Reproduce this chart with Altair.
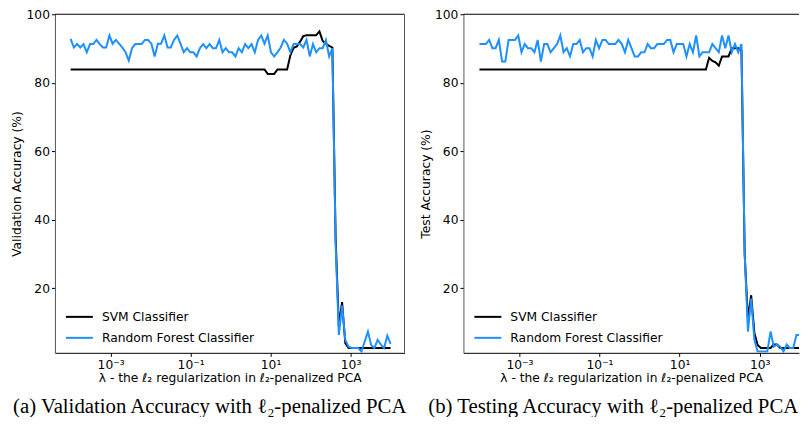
import altair as alt
import numpy as np
import pandas as pd

# lambda grid (x axis), 100 log-spaced values between 1e-4 and 1e4
lambdas = np.logspace(-4, 4, 100).tolist()

series_names = ["SVM Classifier", "Random Forest Classifier"]
series_colors = ["#000000", "#1E90FF"]

# (a) validation accuracy
svm_val = ([83.9] * 61 + [82.6] * 3 + [83.9] * 4 +
           [88.0, 90.2, 90.6, 92.0, 93.6, 93.9, 93.9, 93.9, 93.9, 95.0,
            92.2, 91.4, 90.8, 90.3, 35.0, 9.0, 16.0, 4.0] + [2.6] * 14)
rf_val = [92.8, 90.3, 91.3, 90.3, 91.3, 88.9, 91.3, 91.3, 92.5, 91.3,
          90.3, 90.3, 93.8, 91.4, 92.5, 91.4, 90.3, 88.9, 86.5, 90.1,
          91.3, 91.3, 91.3, 92.5, 92.5, 91.4, 87.7, 91.4, 91.4, 93.8,
          90.3, 90.3, 92.5, 93.8, 91.4, 88.9, 90.1, 88.9, 88.9, 87.7,
          90.1, 91.3, 90.1, 91.3, 90.1, 90.1, 92.5, 88.9, 90.1, 88.9,
          88.9, 87.7, 90.1, 88.9, 91.3, 90.1, 91.3, 88.9, 92.5, 93.8,
          91.4, 93.8, 88.9, 87.7, 88.9, 90.3, 92.5, 91.4, 88.9, 91.3,
          91.3, 91.3, 90.3, 92.5, 87.7, 91.3, 88.9, 90.1, 90.1, 92.5,
          87.7, 90.1, 33.0, 6.4, 15.0, 5.0, 3.0, 2.6, 2.6, 2.6,
          1.6, 4.5, 7.4, 3.5, 2.6, 5.0, 3.6, 2.6, 6.2, 3.8]

# (b) test accuracy
svm_test = ([83.9] * 71 +
            [87.3, 86.4, 86.0, 85.0, 87.7, 87.7, 87.7, 90.1, 90.1, 90.1, 89.5,
             30.0, 11.0, 18.0, 7.0, 3.5, 2.6, 2.6, 2.6, 2.6, 3.6,
             3.6, 2.6, 2.6, 2.6, 2.6, 2.6, 2.6, 2.6])
rf_test = [91.3, 91.3, 91.3, 92.5, 90.1, 90.1, 92.5, 86.2, 86.2, 92.5,
           92.5, 92.5, 93.8, 88.9, 91.3, 90.1, 90.1, 88.9, 92.5, 86.2,
           91.3, 91.3, 88.9, 90.1, 91.3, 93.8, 88.9, 90.1, 87.7, 91.3,
           91.3, 92.5, 88.9, 90.1, 90.1, 87.7, 92.5, 90.1, 92.5, 92.5,
           91.3, 91.3, 91.3, 92.5, 91.3, 88.9, 92.5, 90.1, 87.7, 87.7,
           88.9, 88.9, 91.3, 90.1, 90.1, 91.3, 91.3, 91.3, 92.5, 92.5,
           88.9, 91.3, 91.3, 91.3, 87.7, 91.3, 88.9, 93.8, 87.7, 88.9,
           88.9, 88.9, 91.3, 90.1, 88.9, 93.8, 90.1, 93.8, 88.9, 91.3,
           88.9, 91.3, 30.0, 7.4, 17.0, 5.0, 1.6, 1.6, 1.6, 1.6,
           7.4, 3.0, 3.6, 3.0, 1.6, 3.6, 2.6, 2.6, 6.4, 6.4]

y_ticks = [20, 40, 60, 80, 100]
x_ticks = [1e-3, 1e-1, 1e1, 1e3]
x_title = "λ - the ℓ₂ regularization in ℓ₂-penalized PCA"
captions = ["(a) Validation Accuracy with ℓ₂-penalized PCA",
            "(b) Testing Accuracy with ℓ₂-penalized PCA"]
y_titles = ["Validation Accuracy (%)", "Test Accuracy (%)"]

H = 339
FONT = "DejaVu Sans"
FS = 12.3


def panel(svm, rf, ytitle, caption, xlo, xhi, W, cap_x, right_spine):
    df = pd.DataFrame({
        "lam": lambdas + lambdas,
        "acc": svm + rf,
        "series": [series_names[0]] * len(svm) + [series_names[1]] * len(rf),
    })
    x = alt.X("lam:Q",
              scale=alt.Scale(type="log", domain=[10 ** xlo, 10 ** xhi], nice=False),
              axis=alt.Axis(values=x_ticks, title=x_title,
                            labelExpr="datum.value < 0.01 ? '10⁻³' : (datum.value < 1 ? '10⁻¹' : (datum.value < 100 ? '10¹' : '10³'))",
                            titleX=W / 2, titleY=25, titleBaseline="middle",
                            titleAlign="center"))
    y = alt.Y("acc:Q",
              scale=alt.Scale(domain=[1.2, 100], nice=False, zero=False),
              axis=alt.Axis(values=y_ticks, title=ytitle, titleX=-38, titleY=H / 2,
                            titleBaseline="middle", titleAlign="center",
                            domainColor="#555555"))
    color = alt.Color("series:N",
                      scale=alt.Scale(domain=series_names, range=series_colors),
                      legend=alt.Legend(orient="none", legendX=10, legendY=H - 50.5,
                                        title=None, symbolType="stroke",
                                        symbolSize=729, symbolStrokeWidth=2,
                                        labelFont=FONT, labelFontSize=FS,
                                        labelColor="black", labelOffset=8,
                                        rowPadding=-1.7, padding=0))
    base = alt.Chart(df)
    l1 = base.transform_filter(alt.datum.series == series_names[0]).mark_line(
        strokeWidth=2, clip=True).encode(x=x, y=y, color=color)
    l2 = base.transform_filter(alt.datum.series == series_names[1]).mark_line(
        strokeWidth=2, clip=True).encode(x=x, y=y, color=color)
    one = pd.DataFrame({"t": [caption]})
    top = alt.Chart(one).mark_rule(color="black", strokeWidth=1).encode(
        x=alt.value(0), x2=alt.value(W), y=alt.value(0))
    cap = alt.Chart(one).mark_text(font="Liberation Serif", fontSize=20.8,
                                   color="black", align="center",
                                   baseline="middle").encode(
        text="t:N", x=alt.value(cap_x), y=alt.value(H + 54))
    layers = [l1, l2, top]
    if right_spine:
        layers.append(alt.Chart(one).mark_rule(color="#555555", strokeWidth=1).encode(
            x=alt.value(W), y=alt.value(0), y2=alt.value(H)))
    layers.append(cap)
    return alt.layer(*layers).properties(width=W, height=H)


left = panel(svm_val, rf_val, y_titles[0], captions[0], -4.392, 4.349, 350, 155, True)
right = panel(svm_test, rf_test, y_titles[1], captions[1], -4.4, 3.983, 336, 150, False)

chart = alt.hconcat(left, right, spacing=59, bounds="flush").resolve_scale(
    color="independent"
).properties(
    padding={"left": 3, "top": 0, "right": 0, "bottom": 0}
).configure_view(stroke=None).configure_axis(
    grid=False, domainColor="black", domainWidth=1, tickColor="black",
    tickSize=3.5, labelPadding=2, labelFont=FONT, labelFontSize=FS,
    labelColor="black", titleFont=FONT, titleFontSize=FS,
    titleFontWeight="normal", titleColor="black"
)

chart.save("out.html", embed_options={"renderer": "svg", "actions": False})
